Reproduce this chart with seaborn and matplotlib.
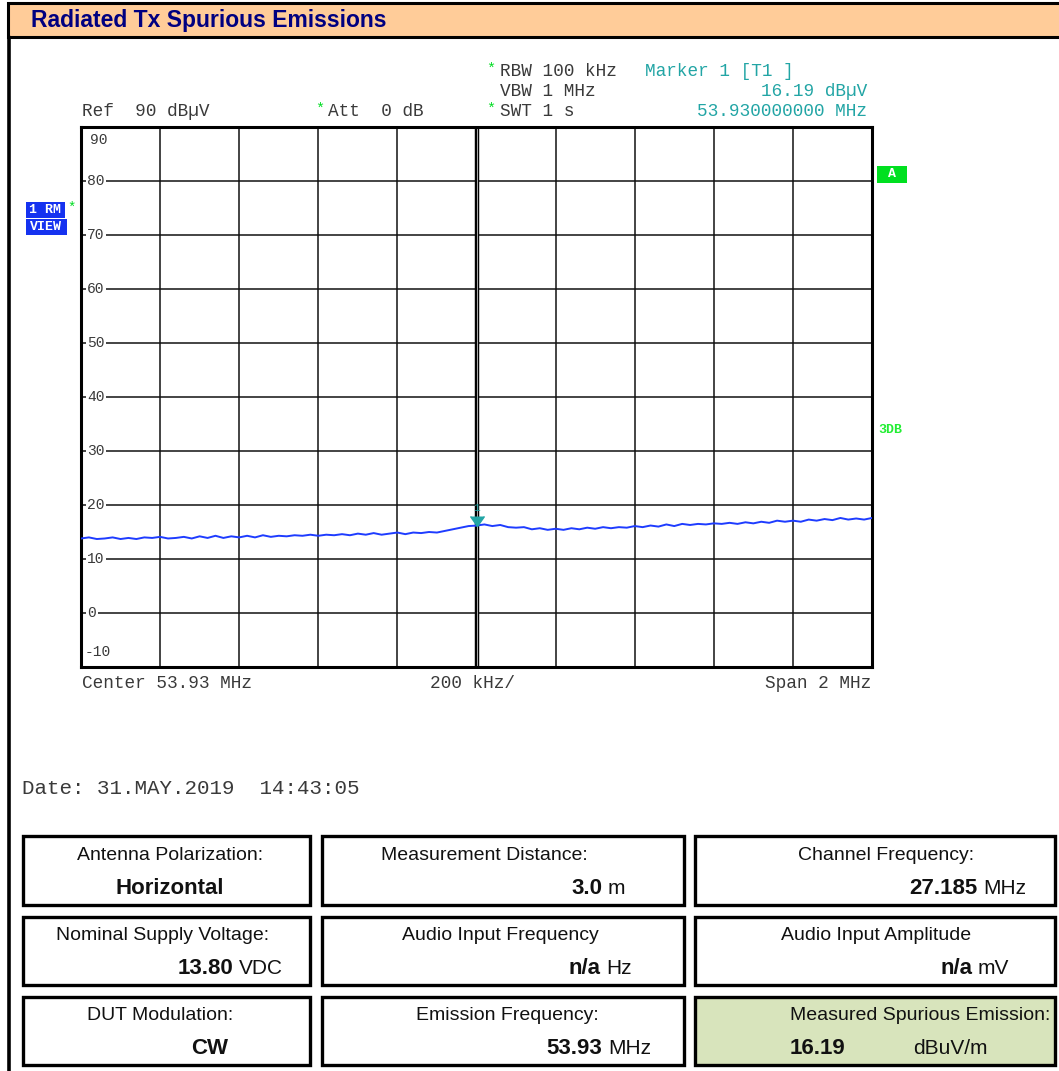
import numpy as np
import pandas as pd
import matplotlib
matplotlib.use("Agg")
import matplotlib.pyplot as plt
from matplotlib.patches import Rectangle
import seaborn as sns

# -------------------------
# Sweep settings / trace readings
# -------------------------
center_mhz = 53.93
span_mhz = 2.0
level_top = 90
level_bottom = -10

trace_dbuv = [
    13.8, 14.0, 13.7, 13.8, 14.0, 13.7, 13.9, 13.7, 14.0, 13.9,
    14.1, 13.8, 13.9, 14.1, 13.8, 14.2, 13.9, 14.3, 13.9, 14.2,
    14.0, 14.3, 14.0, 14.4, 14.1, 14.3, 14.2, 14.4, 14.3, 14.5,
    14.3, 14.5, 14.4, 14.6, 14.4, 14.7, 14.5, 14.8, 14.5, 14.7,
    14.9, 14.6, 14.9, 14.8, 15.0, 14.9, 15.2, 15.5, 15.8, 16.1,
    16.19,
    16.4, 16.1, 16.3, 15.9, 15.8, 15.9, 15.5, 15.7, 15.4,
    15.6, 15.4, 15.7, 15.5, 15.8, 15.6, 15.9, 15.7, 15.9, 15.8,
    16.1, 15.9, 16.2, 16.0, 16.4, 16.1, 16.5, 16.3, 16.5, 16.4,
    16.6, 16.5, 16.7, 16.5, 16.8, 16.6, 16.9, 16.7, 17.1, 16.9,
    17.1, 16.9, 17.3, 17.1, 17.4, 17.2, 17.6, 17.3, 17.5, 17.3, 17.6,
]
marker_freq = 53.93
marker_level = 16.19
y_tick_values = [90, 80, 70, 60, 50, 40, 30, 20, 10, 0, -10]

# table contents
box_labels = [
    ["Antenna Polarization:", "Measurement Distance:", "Channel Frequency:"],
    ["Nominal Supply Voltage:", "Audio Input Frequency", "Audio Input Amplitude"],
    ["DUT Modulation:", "Emission Frequency:", "Measured Spurious Emission:"],
]
box_values = [
    ["Horizontal", "3.0", "27.185"],
    ["13.80", "n/a", "n/a"],
    ["CW", "53.93", "16.19"],
]
box_units = [
    ["", "m", "MHz"],
    ["VDC", "Hz", "mV"],
    ["", "MHz", "dBuV/m"],
]

freq_mhz = np.linspace(center_mhz - span_mhz / 2, center_mhz + span_mhz / 2, len(trace_dbuv))
df = pd.DataFrame({"freq": freq_mhz, "level": trace_dbuv})

# -------------------------
# Figure setup
# -------------------------
sns.set_style("white")
plt.rcParams['font.family'] = ['Liberation Sans', 'DejaVu Sans']
MONO = ['Liberation Mono', 'DejaVu Sans Mono']

W, H = 1059, 1071
fig = plt.figure(figsize=(W / 100, H / 100), dpi=100)
fig.patch.set_facecolor("white")

bg = fig.add_axes([0, 0, 1, 1])
bg.set_xlim(0, W)
bg.set_ylim(H, 0)
bg.axis("off")

TEAL = "#22A5A5"
GREEN = "#00DD22"
BLUE_BOX = "#1532F0"
GREY_TXT = "#3a3a3a"

# title bar + outer frame
bg.add_patch(Rectangle((8, 3), W, 34, fc="#FFCC99", ec="black", lw=2.2))
bg.plot([9, 9], [37, H], color="black", lw=2.6)
bg.text(31, 20, "Radiated Tx Spurious Emissions", fontsize=16.5, fontweight="bold",
        color="#000080", va="center", ha="left")

# analyzer header text
bg.text(82, 111, "Ref  90 dB\u00b5V", family=MONO, fontsize=12.8, color=GREY_TXT, va="center")
bg.text(320, 109, "*", family=MONO, fontsize=11, color=GREEN, va="center", ha="center")
bg.text(328, 111, "Att  0 dB", family=MONO, fontsize=12.8, color=GREY_TXT, va="center")
bg.text(491, 69, "*", family=MONO, fontsize=11, color=GREEN, va="center", ha="center")
bg.text(500, 71, "RBW 100 kHz", family=MONO, fontsize=12.8, color=GREY_TXT, va="center")
bg.text(500, 91, "VBW 1 MHz", family=MONO, fontsize=12.8, color=GREY_TXT, va="center")
bg.text(491, 109, "*", family=MONO, fontsize=11, color=GREEN, va="center", ha="center")
bg.text(500, 111, "SWT 1 s", family=MONO, fontsize=12.8, color=GREY_TXT, va="center")
bg.text(645, 71, "Marker 1 [T1 ]", family=MONO, fontsize=12.8, color=TEAL, va="center")
bg.text(867, 91, f"{marker_level:.2f} dB\u00b5V", family=MONO, fontsize=12.8, color=TEAL,
        va="center", ha="right")
bg.text(867, 111, f"{marker_freq:.9f} MHz", family=MONO, fontsize=12.8, color=TEAL,
        va="center", ha="right")

# side labels
bg.add_patch(Rectangle((26, 202), 39, 16, fc=BLUE_BOX, ec="none"))
bg.text(45, 210, "1 RM", family=MONO, fontsize=9.5, fontweight="bold", color="white",
        va="center", ha="center")
bg.add_patch(Rectangle((26, 219), 41, 16, fc=BLUE_BOX, ec="none"))
bg.text(46, 227, "VIEW", family=MONO, fontsize=9.5, fontweight="bold", color="white",
        va="center", ha="center")
bg.text(72, 208, "*", family=MONO, fontsize=10, color=GREEN, va="center", ha="center")
bg.add_patch(Rectangle((877, 166), 30, 17, fc="#00E020", ec="none"))
bg.text(892, 174, "A", family=MONO, fontsize=9.5, fontweight="bold", color="white",
        va="center", ha="center")
bg.text(878, 430, "3DB", family=MONO, fontsize=9.5, fontweight="bold", color="#22EE33",
        va="center", ha="left")

# footer of the screen
bg.text(82, 683, f"Center {center_mhz:.2f} MHz", family=MONO, fontsize=12.8, color=GREY_TXT, va="center")
bg.text(430, 683, "200 kHz/", family=MONO, fontsize=12.8, color=GREY_TXT, va="center")
bg.text(871, 683, "Span 2 MHz", family=MONO, fontsize=12.8, color=GREY_TXT, va="center", ha="right")
bg.text(22, 788, "Date: 31.MAY.2019  14:43:05", family=MONO, fontsize=15, color=GREY_TXT, va="center")

# -------------------------
# Spectrum trace
# -------------------------
x0, x1, y0, y1 = 81, 872, 127, 667
ax = fig.add_axes([x0 / W, 1 - y1 / H, (x1 - x0) / W, (y1 - y0) / H])
ax.set_facecolor("white")
sns.lineplot(data=df, x="freq", y="level", ax=ax, color="#1E3CFF", lw=1.4, zorder=4)
ax.set_xlim(freq_mhz[0], freq_mhz[-1])
ax.set_ylim(level_bottom, level_top)
ax.set_xticks(np.linspace(freq_mhz[0], freq_mhz[-1], 11))
ax.set_yticks(y_tick_values)
ax.tick_params(length=0, labelleft=False, labelbottom=False)
ax.set_xlabel("")
ax.set_ylabel("")
ax.grid(True, color="#111111", lw=1.1, zorder=1)
ax.set_axisbelow(True)
for sp in ax.spines.values():
    sp.set_color("black")
    sp.set_linewidth(2.2)
ax.axvline(center_mhz, color="black", lw=3.2, zorder=2)
ax.axvline(center_mhz, color="#aaaaaa", lw=0.7, zorder=2)

# level labels on the gridlines
ytf = ax.get_yaxis_transform()
for v in y_tick_values:
    if v == level_top:
        ax.text(0.012, v - 1.2, str(v), transform=ytf, family=MONO, fontsize=10.5,
                color=GREY_TXT, va="top", ha="left", zorder=3)
    elif v == level_bottom:
        ax.text(0.004, v + 1.5, str(v), transform=ytf, family=MONO, fontsize=10.5,
                color=GREY_TXT, va="bottom", ha="left", zorder=3)
    else:
        ax.text(0.008, v, str(v), transform=ytf, family=MONO, fontsize=10.5,
                color=GREY_TXT, va="center", ha="left", zorder=3,
                bbox=dict(fc="white", ec="none", pad=1.2))

# marker 1
ax.plot([marker_freq], [marker_level], marker=7, markersize=10, color=TEAL, zorder=5)
ax.text(marker_freq, marker_level + 3.3, "1", family=MONO, fontsize=8, color=TEAL,
        ha="center", va="center", zorder=5)

# -------------------------
# Info table
# -------------------------
col_x = [(23, 310), (322, 684), (695, 1055)]
row_y = [(836, 905), (917, 985), (997, 1065)]
label_cx = [[170, 484, 886], [163, 500, 876], [160, 507, 920]]
value_right = [[None, 602, 977], [233, 600, 972], [None, 602, None]]

for r in range(3):
    for c in range(3):
        xa, xb = col_x[c]
        ya, yb = row_y[r]
        fc = "#D8E4BC" if (r, c) == (2, 2) else "white"
        bg.add_patch(Rectangle((xa, ya), xb - xa, yb - ya, fc=fc, ec="black", lw=2.4))
        ly = ya + 19
        vy = yb - 17
        bg.text(label_cx[r][c], ly, box_labels[r][c], fontsize=14, color="#111111",
                ha="center", va="center")
        val, unit = box_values[r][c], box_units[r][c]
        if unit == "":
            cx = 170 if r == 0 else 210
            bg.text(cx, vy, val, fontsize=16, fontweight="bold", color="#111111",
                    ha="center", va="center")
        elif value_right[r][c] is None:
            bg.text(790, vy, val, fontsize=16, fontweight="bold", color="#111111",
                    ha="left", va="center")
            bg.text(913, vy, unit, fontsize=15, color="#111111", ha="left", va="center")
        else:
            xr = value_right[r][c]
            bg.text(xr, vy, val, fontsize=16, fontweight="bold", color="#111111",
                    ha="right", va="center")
            bg.text(xr + 6, vy, unit, fontsize=15, color="#111111", ha="left", va="center")

fig.savefig("out.png", dpi=100)
